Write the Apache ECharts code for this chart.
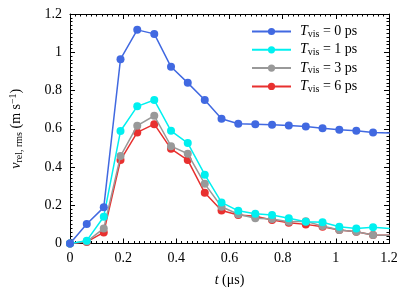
<!DOCTYPE html>
<html>
<head>
<meta charset="utf-8">
<script src="https://cdn.jsdelivr.net/npm/echarts@6/dist/echarts.min.js"></script>
<style>html,body{margin:0;padding:0;background:#fff}#c{width:415px;height:290px}</style>
</head>
<body>
<div id="c"></div>
<script>
var tValues = [0, 0.063, 0.127, 0.19, 0.253, 0.317, 0.38, 0.443, 0.507, 0.57, 0.633, 0.697, 0.76, 0.823, 0.887, 0.95, 1.013, 1.077, 1.14, 1.203];
var vis0 = [0, 0.102, 0.189, 0.964, 1.117, 1.096, 0.924, 0.840, 0.750, 0.652, 0.626, 0.624, 0.621, 0.617, 0.612, 0.603, 0.595, 0.589, 0.581, 0.578];
var vis1 = [0, 0.015, 0.140, 0.588, 0.717, 0.750, 0.589, 0.525, 0.360, 0.215, 0.171, 0.155, 0.149, 0.132, 0.114, 0.111, 0.088, 0.079, 0.085, 0.079];
var vis3 = [0, 0.010, 0.079, 0.457, 0.616, 0.668, 0.509, 0.469, 0.312, 0.192, 0.153, 0.132, 0.128, 0.114, 0.116, 0.091, 0.071, 0.062, 0.044, 0.043];
var vis6 = [0, 0.008, 0.058, 0.436, 0.581, 0.624, 0.495, 0.436, 0.265, 0.173, 0.149, 0.142, 0.123, 0.109, 0.100, 0.088, 0.071, 0.062, 0.044, 0.043];
var seriesNames = ['0', '1', '3', '6'];
var seriesColors = ['#4169e1', '#00f0f0', '#999999', '#e8302f'];
var xTicks = [0, 0.2, 0.4, 0.6, 0.8, 1, 1.2];
var yTicks = [0, 0.2, 0.4, 0.6, 0.8, 1, 1.2];

var font = 'Liberation Serif';
var chart = echarts.init(document.getElementById('c'));
function pairs(v){ return tValues.map(function(t,i){ return [t, v[i]]; }); }
var allData = [vis0, vis1, vis3, vis6];
var series = allData.map(function(v, k){
  return {
    name: seriesNames[k], type: 'line', data: pairs(v), clip: true,
    symbol: 'circle', symbolSize: 8, showSymbol: true,
    lineStyle: {color: seriesColors[k], width: 1.5},
    itemStyle: {color: seriesColors[k]},
    z: 10 - k
  };
});
var axisCommon = {
  axisLine: {show: true, onZero: false, lineStyle: {color: '#000', width: 1}},
  axisTick: {show: true, inside: true, length: 5, lineStyle: {color: '#000'}},
  minorTick: {show: true, splitNumber: 10, length: 2.5, lineStyle: {color: '#000'}},
  splitLine: {show: false}
};
function ax(extra){ return Object.assign({}, JSON.parse(JSON.stringify(axisCommon)), extra); }
chart.setOption({
  animation: false,
  grid: {left: 70, right: 26, top: 14, bottom: 46.5, containLabel: false, outerBoundsMode: 'none'},
  legend: {
    orient: 'vertical', left: 246, top: 18, itemWidth: 39, itemHeight: 9, itemGap: 2.3,
    data: seriesNames,
    formatter: function(n){ return '{i|T}{s|vis}{n| = ' + n + ' ps}'; },
    textStyle: {
      fontFamily: font, fontSize: 14, color: '#000', padding: [0,0,0,4],
      rich: {
        i: {fontFamily: font, fontStyle: 'italic', fontSize: 14, color: '#000', lineHeight: 15, verticalAlign: 'middle'},
        s: {fontFamily: font, fontSize: 10, color: '#000', lineHeight: 15, verticalAlign: 'bottom', padding: [6,0,0,0]},
        n: {fontFamily: font, fontSize: 14, color: '#000', lineHeight: 15, verticalAlign: 'middle'}
      }
    }
  },
  xAxis: [
    ax({type: 'value', min: 0, max: 1.2, interval: 0.2, position: 'bottom',
      axisLabel: {fontFamily: font, fontSize: 14, color: '#000', margin: 8,
        formatter: function(v){ return xTicks.indexOf(Math.round(v*10)/10) >= 0 ? String(Math.round(v*10)/10) : ''; }},
      name: '{i|t} (μs)', nameLocation: 'middle', nameGap: 30,
      nameTextStyle: {fontFamily: font, fontSize: 14, color: '#000',
        rich: {i: {fontFamily: font, fontStyle: 'italic', fontSize: 14, color: '#000'}}}
    }),
    ax({type: 'value', min: 0, max: 1.2, interval: 0.2, position: 'top', axisLabel: {show: false}})
  ],
  yAxis: [
    ax({type: 'value', min: 0, max: 1.2, interval: 0.2, position: 'left',
      axisLabel: {fontFamily: font, fontSize: 14, color: '#000', margin: 8,
        formatter: function(v){ return yTicks.indexOf(Math.round(v*10)/10) >= 0 ? String(Math.round(v*10)/10) : ''; }},
      name: '{i|v}{s|rel, rms}{n| (m s}{p|−1}{n|)}', nameLocation: 'middle', nameGap: 46, nameRotate: 90,
      nameTextStyle: {fontFamily: font, fontSize: 14, color: '#000',
        rich: {
          i: {fontFamily: font, fontStyle: 'italic', fontSize: 14, color: '#000', lineHeight: 16, verticalAlign: 'middle'},
          s: {fontFamily: font, fontSize: 10, color: '#000', lineHeight: 16, verticalAlign: 'bottom', padding: [7,0,0,0]},
          n: {fontFamily: font, fontSize: 14, color: '#000', lineHeight: 16, verticalAlign: 'middle'},
          p: {fontFamily: font, fontSize: 10, color: '#000', lineHeight: 16, verticalAlign: 'top', padding: [0,0,6,0]}
        }}
    }),
    ax({type: 'value', min: 0, max: 1.2, interval: 0.2, position: 'right', axisLabel: {show: false}})
  ],
  series: series
});
</script>
</body>
</html>
